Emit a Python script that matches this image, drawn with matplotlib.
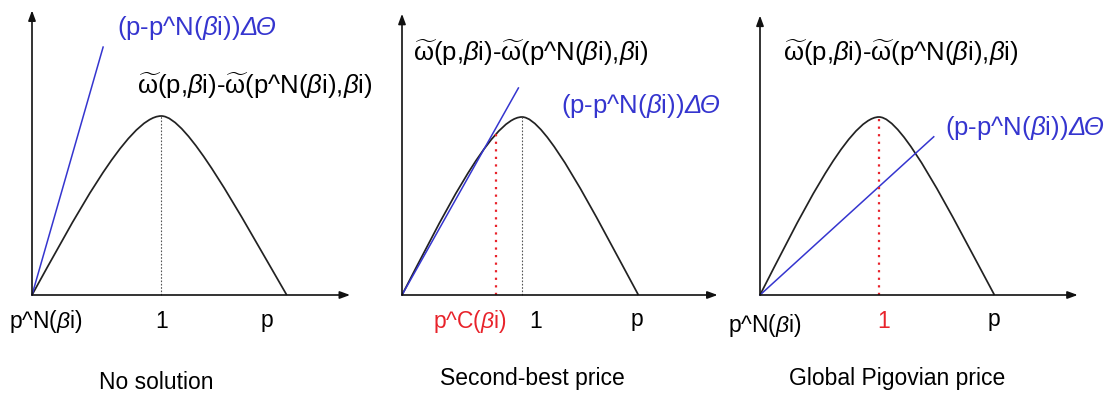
import numpy as np
import matplotlib.pyplot as plt
from matplotlib.path import Path
from matplotlib.patches import PathPatch

plt.rcParams["font.family"] = ["Liberation Sans", "DejaVu Sans"]
plt.rcParams["mathtext.fontset"] = "custom"
plt.rcParams["mathtext.rm"] = "Liberation Sans"
plt.rcParams["mathtext.it"] = "Liberation Sans:italic"

# hump-shaped welfare gain curve (peak at p = 1), as two cubic Bezier pieces
# (start, control, control, peak, control, control, end)
hump_x = [0, 0.30, 0.74, 1.0, 1.20, 1.60, 1.97]
hump_y = [0, 0.39, 1.00, 1.0, 1.00, 0.46, 0.0]

# end point of the straight line (p - p^N) dTheta in each panel
line_end_x = [0.55, 0.97, 1.46]
line_end_y = [1.385, 1.163, 0.889]

# vertical marker lines
marker_x = [1.0, 0.78, 1.0]
marker_top = [1.0, 0.92, 1.0]
marker_kind = ["gray", "red", "red"]
grey_x = [None, 1.0, None]

titles = ["No solution", "Second-best price", "Global Pigovian price"]

curve_label = (r"$\widetilde{\mathrm{\omega}}$(p,$\beta$i)-"
               r"$\widetilde{\mathrm{\omega}}$(p^N($\beta$i),$\beta$i)")
line_label = r"(p-p^N($\beta$i))"
line_label_greek = "\u0394\u0398"

BLUE = "#3535cf"
RED = "#e8232b"
FS = 16.5
FS_BIG = 18.5

W, H = 1110, 396
fig = plt.figure(figsize=(W / 100, H / 100), dpi=100)

# pixel origin and unit sizes for each panel
panels = [
    dict(ox=32, oy=295, ux=129.3, uy=179, xend=2.46, ytop=1.59),
    dict(ox=402, oy=295, ux=120, uy=178, xend=2.63, ytop=1.58),
    dict(ox=760, oy=295, ux=119, uy=178, xend=2.67, ytop=1.57),
]
xlo, xhi, ylo, yhi = -0.3, 2.75, -0.7, 1.7

axes = []
for pn in panels:
    left = (pn["ox"] + xlo * pn["ux"]) / W
    bottom = (H - pn["oy"] + ylo * pn["uy"]) / H
    width = (xhi - xlo) * pn["ux"] / W
    height = (yhi - ylo) * pn["uy"] / H
    ax = fig.add_axes([left, bottom, width, height])
    ax.set_xlim(xlo, xhi)
    ax.set_ylim(ylo, yhi)
    ax.axis("off")
    axes.append(ax)

codes = [Path.MOVETO] + [Path.CURVE4] * 6
verts = list(zip(hump_x, hump_y))

for i, (ax, pn) in enumerate(zip(axes, panels)):
    # axes with arrows
    arrow = dict(arrowstyle="-|>,head_length=0.6,head_width=0.22",
                 color="#111111", lw=1.2, shrinkA=0, shrinkB=0)
    ax.annotate("", xy=(pn["xend"], 0), xytext=(0, 0), arrowprops=arrow)
    ax.annotate("", xy=(0, pn["ytop"]), xytext=(0, 0), arrowprops=arrow)

    ax.add_patch(PathPatch(Path(verts, codes), facecolor="none",
                           edgecolor="#222222", lw=1.25))
    ax.plot([0, line_end_x[i]], [0, line_end_y[i]], color=BLUE, lw=1.1)

    if marker_kind[i] == "gray":
        ax.plot([marker_x[i], marker_x[i]], [0, marker_top[i]],
                color="#555555", lw=0.8, linestyle=(0, (1.5, 1.5)))
    else:
        ax.plot([marker_x[i], marker_x[i]], [0, marker_top[i]],
                color=RED, lw=1.6, linestyle=(0, (1, 2.4)))
    if grey_x[i] is not None:
        ax.plot([grey_x[i], grey_x[i]], [0, 1.0],
                color="#555555", lw=0.8, linestyle=(0, (1.5, 1.5)))

# tick-like labels under each x axis
t = dict(ha="center", va="center", fontsize=FS)
axes[0].text(0.11, -0.15, r"p^N($\beta$i)", **t)
axes[0].text(1.0, -0.15, "1", **t)
axes[0].text(1.82, -0.14, "p", **t)
axes[1].text(0.57, -0.15, r"p^C($\beta$i)", color=RED, **t)
axes[1].text(1.11, -0.15, "1", **t)
axes[1].text(1.96, -0.14, "p", **t)
axes[2].text(0.04, -0.17, r"p^N($\beta$i)", **t)
axes[2].text(1.04, -0.15, "1", color=RED, **t)
axes[2].text(1.97, -0.14, "p", **t)

# curve labels
big = dict(ha="center", va="center", fontsize=FS_BIG)
axes[0].text(1.72, 1.17, curve_label, **big)
axes[1].text(1.075, 1.36, curve_label, **big)
axes[2].text(1.18, 1.36, curve_label, **big)

# line labels: split so the Greek part can be italic
line_pos = [(1.61, 1.49), (2.35, 1.06), (2.59, 0.94)]
for ax, (lx, ly) in zip(axes, line_pos):
    ax.text(lx, ly, line_label, color=BLUE, ha="right", va="center",
            fontsize=FS_BIG)
    ax.text(lx, ly, line_label_greek, color=BLUE, ha="left", va="center",
            fontsize=FS_BIG, fontstyle="italic")

# panel captions
title_pos = [(0.96, -0.49), (1.09, -0.47), (1.15, -0.47)]
for ax, title, (tx, ty) in zip(axes, titles, title_pos):
    ax.text(tx, ty, title, **t)

fig.savefig("out.png", dpi=100)
